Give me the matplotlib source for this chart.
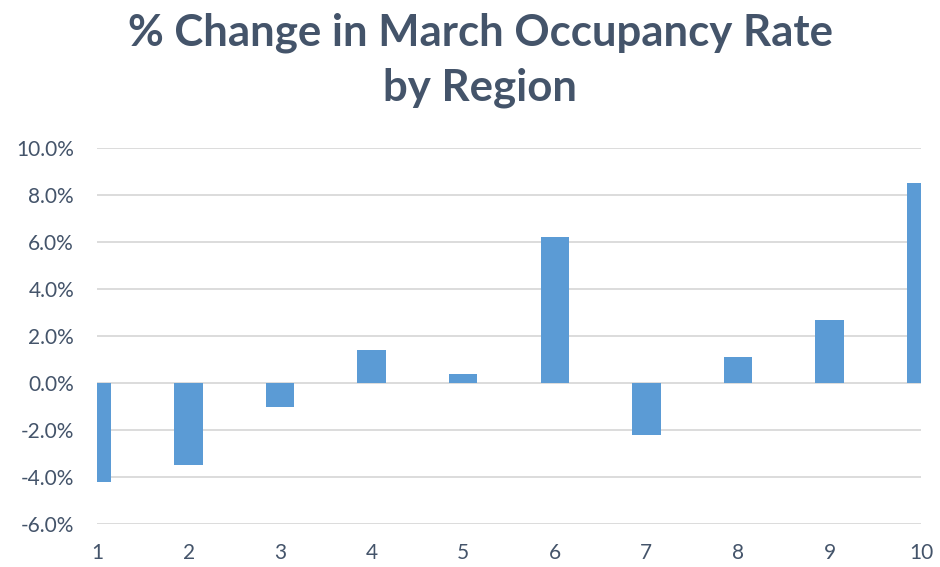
import matplotlib.pyplot as plt
from matplotlib.ticker import FuncFormatter

regions = [1, 2, 3, 4, 5, 6, 7, 8, 9, 10]
pct_change = [-4.2, -3.5, -1.0, 1.4, 0.4, 6.2, -2.2, 1.1, 2.7, 8.5]
y_ticks = [-6, -4, -2, 0, 2, 4, 6, 8, 10]

text_color = '#44546A'
plt.rcParams['font.family'] = ['Lato', 'DejaVu Sans']

fig = plt.figure(figsize=(9.4, 5.67), dpi=100)
ax = fig.add_axes([0.1032, 0.0758, 0.8766, 0.6632])

ax.bar(regions, pct_change, width=0.31, color='#5B9BD5', zorder=3)

ax.set_xlim(1, 10)
ax.set_ylim(-6, 10)
ax.set_yticks(y_ticks)
ax.set_xticks(regions)
ax.yaxis.set_major_formatter(FuncFormatter(lambda v, p: f'{v:.1f}%'))
ax.grid(axis='y', color='#D9D9D9', linewidth=1.3, zorder=0)
for s in ax.spines.values():
    s.set_visible(False)
ax.tick_params(length=0, labelsize=15, colors=text_color)
ax.tick_params(axis='y', pad=16.5)
ax.tick_params(axis='x', pad=14)

fig.text(0.511, 0.9206, '% Change in March Occupancy Rate',
         ha='center', va='baseline', fontsize=31.5, fontweight='bold',
         color=text_color)
fig.text(0.511, 0.8236, 'by Region',
         ha='center', va='baseline', fontsize=31.5, fontweight='bold',
         color=text_color)

fig.savefig('out.png', dpi=100)
